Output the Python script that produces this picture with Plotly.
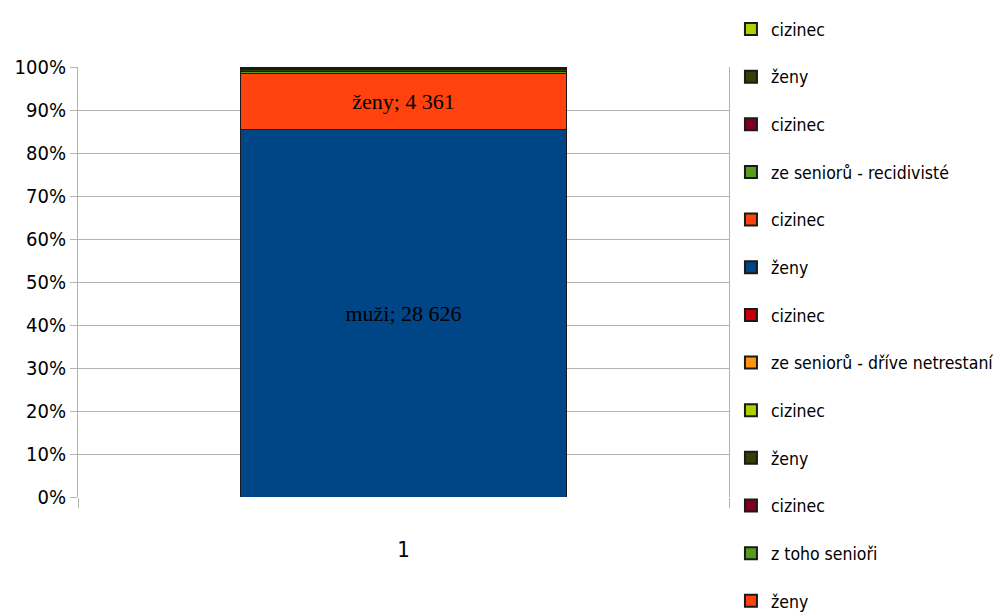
import plotly.graph_objects as go

categories = ["1"]
series_names = [
    "muži", "ženy", "z toho senioři", "cizinec", "ženy", "cizinec",
    "ze seniorů - dříve netrestaní", "cizinec", "ženy", "cizinec",
    "ze seniorů - recidivisté", "cizinec", "ženy", "cizinec",
]
series_values = [28626, 4361, 160, 8, 140, 3, 40, 2, 30, 1, 90, 2, 10, 1]
series_colors = [
    "#004586", "#ff420e", "#579d1c", "#7e0021", "#314004", "#aecf00",
    "#ff950e", "#c5000b", "#004586", "#ff420e", "#579d1c", "#7e0021",
    "#314004", "#aecf00",
]
labelled = [True, True] + [False] * 12
y_ticks = list(range(0, 101, 10))

SANS = "DejaVu Sans Condensed, Liberation Sans, Arial, sans-serif"

fig = go.Figure()
n = len(series_names)
for i, (name, val, col) in enumerate(zip(series_names, series_values, series_colors)):
    txt = f"{name}; {val:,}".replace(",", " ") if labelled[i] else ""
    fig.add_trace(go.Bar(
        x=[1], y=[val], name=name, legendgroup=f"g{i}", legendrank=n - i,
        marker=dict(color=col, line=dict(color="#1a1a1a", width=1)),
        width=0.5,
        text=[txt], textposition="inside", insidetextanchor="middle",
        textangle=0, constraintext="none",
        textfont=dict(family="Liberation Serif, Times New Roman, serif", size=22, color="black"),
        hoverinfo="name+y",
    ))

fig.update_layout(
    width=999, height=604,
    barmode="stack", barnorm="percent",
    plot_bgcolor="white", paper_bgcolor="white",
    margin=dict(l=70, r=278, t=59, b=115, autoexpand=False),
    font=dict(family=SANS, color="black"),
    showlegend=True,
    legend=dict(
        x=1.003, y=1.130, xanchor="left", yanchor="top",
        traceorder="grouped", tracegroupgap=21.9,
        font=dict(size=17.5, family=SANS, color="black"),
        bgcolor="rgba(0,0,0,0)", maxheight=1000,
        itemsizing="constant",
    ),
    xaxis=dict(
        range=[0.5, 1.5], tickvals=[1], ticktext=categories,
        ticks="", showgrid=False, zeroline=False,
        tickfont=dict(size=22), ticklabelstandoff=37,
        minor=dict(tickvals=[0.5, 1.5], ticks="outside", ticklen=10, tickcolor="#b3b3b3", showgrid=False),
        showline=False,
    ),
    yaxis=dict(
        range=[0, 100], tickvals=y_ticks, ticktext=[f"{t}%" for t in y_ticks],
        ticks="outside", ticklen=7, tickcolor="#b3b3b3",
        showgrid=True, gridcolor="#b3b3b3", gridwidth=1,
        showline=True, linecolor="#b3b3b3", linewidth=1, mirror=True,
        zeroline=False, tickfont=dict(size=20),
    ),
)

fig.write_html("out.html")
